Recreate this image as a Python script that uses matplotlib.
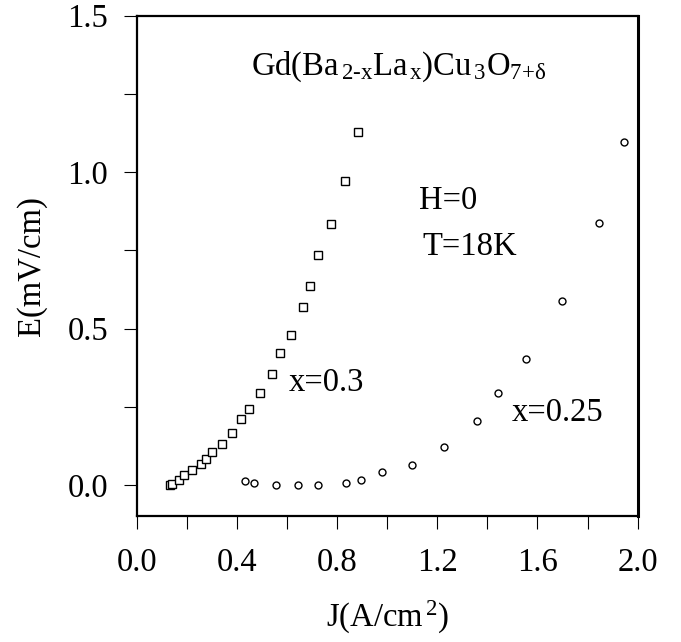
import matplotlib
matplotlib.use("Agg")
import matplotlib.pyplot as plt
from matplotlib.ticker import MultipleLocator

plt.rcParams['font.family'] = ['Liberation Serif', 'DejaVu Serif']
plt.rcParams['mathtext.fontset'] = 'custom'
plt.rcParams['mathtext.rm'] = 'Liberation Serif'
plt.rcParams['mathtext.it'] = 'Liberation Serif:italic'
plt.rcParams['mathtext.bf'] = 'Liberation Serif:bold'

# x = 0.3 (squares)
J_03 = [0.133, 0.141, 0.169, 0.188, 0.221, 0.255, 0.277, 0.299, 0.339, 0.379,
        0.415, 0.448, 0.492, 0.539, 0.571, 0.616, 0.664, 0.692, 0.722, 0.776,
        0.830, 0.882]
E_03 = [0.000, 0.005, 0.017, 0.033, 0.047, 0.069, 0.083, 0.107, 0.133, 0.168,
        0.210, 0.244, 0.295, 0.355, 0.422, 0.481, 0.570, 0.637, 0.737, 0.836,
        0.973, 1.129]

# x = 0.25 (circles)
J_025 = [0.434, 0.467, 0.556, 0.644, 0.724, 0.834, 0.895, 0.979, 1.098, 1.228,
         1.360, 1.442, 1.553, 1.699, 1.844, 1.945]
E_025 = [0.013, 0.007, 0.002, 0.002, 0.002, 0.007, 0.018, 0.042, 0.064, 0.122,
         0.205, 0.296, 0.402, 0.590, 0.837, 1.098]

x_ticks = [0.0, 0.4, 0.8, 1.2, 1.6, 2.0]
y_ticks = [0.0, 0.5, 1.0, 1.5]

fig = plt.figure(figsize=(6.81, 6.42), dpi=100)
ax = fig.add_axes([0.2007, 0.1955, 0.7357, 0.780])

ax.plot(J_03, E_03, linestyle='none', marker='s', markersize=6.2,
        markerfacecolor='white', markeredgecolor='black', markeredgewidth=1.0)
ax.plot(J_025, E_025, linestyle='none', marker='o', markersize=5.0,
        markerfacecolor='white', markeredgecolor='black', markeredgewidth=1.0)

ax.set_xlim(0.0, 2.0)
ax.set_ylim(-0.1, 1.5)
ax.set_xticks(x_ticks)
ax.set_xticklabels([f"{v:.1f}" for v in x_ticks])
ax.set_yticks(y_ticks)
ax.set_yticklabels([f"{v:.1f}" for v in y_ticks])
ax.xaxis.set_minor_locator(MultipleLocator(0.2))
ax.yaxis.set_minor_locator(MultipleLocator(0.25))

ax.tick_params(axis='both', which='both', direction='out', length=9.5, width=0.8,
               top=False, right=False, labelsize=23.5)
ax.tick_params(axis='x', which='major', pad=13)
ax.tick_params(axis='y', which='major', pad=11)

for side in ['left', 'bottom', 'top']:
    ax.spines[side].set_linewidth(1.6)
ax.spines['right'].set_linewidth(2.2)

ax.set_xlabel(r"J(A/cm$^{\,\mathrm{2}}$)", fontsize=23.5, labelpad=15)
ax.set_ylabel("E(mV/cm)", fontsize=23.5, labelpad=15)

ax.text(0.456, 1.310,
        r"Gd(Ba$_{\,\mathrm{2}\text{-}\mathrm{x}}$La$_{\,\mathrm{x}}$)Cu$_{\,\mathrm{3}}$O$_{\mathrm{7}\text{+}\mathrm{δ}}$",
        fontsize=23.5, ha='left', va='baseline')
ax.text(1.127, 0.883, "H=0", fontsize=23.5, ha='left', va='baseline')
ax.text(1.142, 0.734, "T=18K", fontsize=23.5, ha='left', va='baseline')
ax.text(0.605, 0.302, "x=0.3", fontsize=23.5, ha='left', va='baseline')
ax.text(1.497, 0.206, "x=0.25", fontsize=23.5, ha='left', va='baseline')

fig.savefig("out.png", dpi=100)
